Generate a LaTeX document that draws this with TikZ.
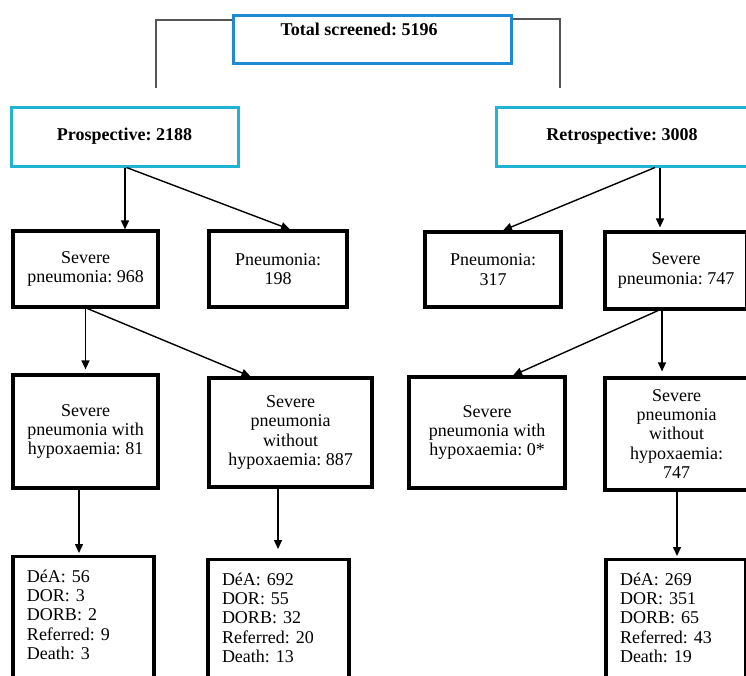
\documentclass[tikz,border=0pt]{standalone}
\usepackage{fontspec}
\setmainfont{Liberation Serif}
\usetikzlibrary{arrows.meta}
\definecolor{totblue}{RGB}{30,138,214}
\definecolor{arm}{RGB}{30,180,210}
\definecolor{joint}{RGB}{85,85,85}
\tikzset{
  box/.style={draw=black,line width=3.2pt,align=center,inner sep=0pt},
  topbox/.style={box,line width=3pt},
  outbox/.style={draw=black,line width=3.2pt,align=left,anchor=north,
    inner xsep=14pt,inner ysep=13pt,text depth=96pt},
  arr/.style={line width=1.4pt,-{Triangle[length=9pt,width=8pt]}},
}
\frenchspacing
\begin{document}
\begin{tikzpicture}[x=1pt,y=-1pt,font=\fontsize{18}{19.3}\selectfont]
\useasboundingbox (0,0) rectangle (746,675);
\clip (0,0) rectangle (746,675);
%
\node[topbox,draw=totblue,font=\fontsize{18}{19.3}\selectfont\bfseries,
  minimum width=278pt,inner ysep=8pt,text height=12pt,text depth=20pt]
  (total) at (372,39) {Total screened: 5196\hspace*{26pt}};
\node[topbox,draw=arm,font=\fontsize{18}{19.3}\selectfont\bfseries,
  minimum width=227pt,minimum height=59pt] (pro) at (124.5,136.5) {Prospective: 2188};
\node[topbox,draw=arm,font=\fontsize{18}{19.3}\selectfont\bfseries,
  minimum width=252pt,minimum height=59pt] (retro) at (622,136.5) {Retrospective: 3008};
%
\coordinate (jl) at (156,88);
\coordinate (jr) at (560,88);
\draw[joint,line width=1.3pt] ([yshift=19pt]total.west) -| (jl);
\draw[joint,line width=1.3pt] ([yshift=20pt]total.east) -| (jr);
%
\node[box,minimum width=145pt,minimum height=76pt] (sp968) at (85.5,269) {Severe\\pneumonia: 968};
\node[box,minimum width=138pt,minimum height=76pt] (pn198) at (278,269) {Pneumonia:\\198};
\node[box,minimum width=136pt,minimum height=75pt] (pn317) at (493,269.5) {Pneumonia:\\317};
\node[box,minimum width=142pt,minimum height=77pt] (sp747) at (676,270.5) {Severe\\pneumonia: 747};
%
\draw[arr] ([xshift=0.5pt]pro.south) -- ([xshift=0.5pt]pro.south |- sp968.north);
\draw[arr] ([xshift=2pt]pro.south) -- ([xshift=12pt]pn198.north);
\draw[arr] ([xshift=38pt]retro.south) -- ([xshift=38pt,yshift=3pt]retro.south |- sp747.north);
\draw[arr] ([xshift=33pt]retro.south) -- ([xshift=10pt]pn317.north);
%
\node[box,minimum width=145pt,minimum height=113pt] (hyp81) at (85.5,431.5)
  {Severe\\pneumonia with\\hypoxaemia: 81};
\node[box,minimum width=163pt,minimum height=109pt] (nohyp887) at (290.5,432.5)
  {Severe\\pneumonia\\without\\hypoxaemia: 887};
\node[box,minimum width=156pt,minimum height=111pt] (hyp0) at (487,432.5)
  {Severe\\pneumonia with\\hypoxaemia: 0*};
\node[box,minimum width=143pt,minimum height=112pt] (nohyp747) at (676.5,434)
  {Severe\\pneumonia\\without\\hypoxaemia:\\747};
%
\draw[arr] (sp968.south) -- ([yshift=4pt]sp968.south |- hyp81.north);
\draw[arr] ([xshift=2pt]sp968.south) -- ([xshift=-40pt]nohyp887.north);
\draw[arr] ([xshift=-14pt]sp747.south) -- ([xshift=-14pt,yshift=5pt]sp747.south |- nohyp747.north);
\draw[arr] ([xshift=-18pt]sp747.south) -- ([xshift=26pt]hyp0.north);
%
\node[outbox,text width=113pt] (out81) at (83.5,555)
  {DéA: 56\\DOR: 3\\DORB: 2\\Referred: 9\\Death: 3};
\node[outbox,text width=113pt] (out887) at (278.5,558)
  {DéA: 692\\DOR: 55\\DORB: 32\\Referred: 20\\Death: 13};
\node[outbox,text width=112pt] (out747) at (676,558)
  {DéA: 269\\DOR: 351\\DORB: 65\\Referred: 43\\Death: 19};
%
\draw[arr] ([xshift=-6.5pt]hyp81.south) -- ([xshift=-6.5pt,yshift=2pt]hyp81.south |- out81.north);
\draw[arr] ([xshift=-12.5pt]nohyp887.south) -- ([xshift=-12.5pt,yshift=9pt]nohyp887.south |- out887.north);
\draw[arr] ([xshift=0.5pt]nohyp747.south) -- ([xshift=0.5pt,yshift=2pt]nohyp747.south |- out747.north);
\end{tikzpicture}
\end{document}
